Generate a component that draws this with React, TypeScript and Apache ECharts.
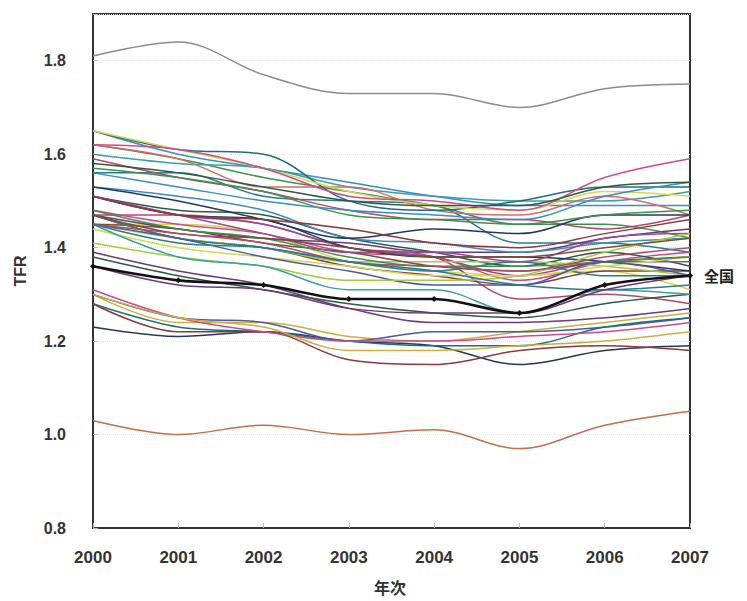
import React, { useEffect, useRef } from "react";
import * as echarts from "echarts";

const years = ["2000", "2001", "2002", "2003", "2004", "2005", "2006", "2007"];

const national = [1.36, 1.33, 1.32, 1.29, 1.29, 1.26, 1.32, 1.34];

const prefNames = [
  "北海道", "青森", "岩手", "宮城", "秋田", "山形", "福島", "茨城", "栃木", "群馬",
  "埼玉", "千葉", "東京", "神奈川", "新潟", "富山", "石川", "福井", "山梨", "長野",
  "岐阜", "静岡", "愛知", "三重", "滋賀", "京都", "大阪", "兵庫", "奈良", "和歌山",
  "鳥取", "島根", "岡山", "広島", "山口", "徳島", "香川", "愛媛", "高知", "福岡",
  "佐賀", "長崎", "熊本", "大分", "宮崎", "鹿児島", "沖縄",
];

const prefValues: number[][] = [
  [1.23, 1.21, 1.22, 1.2, 1.19, 1.15, 1.18, 1.19],
  [1.47, 1.47, 1.45, 1.4, 1.38, 1.29, 1.3, 1.28],
  [1.56, 1.56, 1.51, 1.5, 1.49, 1.41, 1.41, 1.39],
  [1.39, 1.35, 1.32, 1.27, 1.24, 1.24, 1.25, 1.27],
  [1.45, 1.45, 1.43, 1.37, 1.35, 1.34, 1.35, 1.31],
  [1.62, 1.59, 1.55, 1.52, 1.49, 1.45, 1.45, 1.42],
  [1.65, 1.6, 1.57, 1.54, 1.51, 1.49, 1.49, 1.49],
  [1.47, 1.42, 1.4, 1.36, 1.34, 1.32, 1.35, 1.35],
  [1.48, 1.45, 1.43, 1.39, 1.38, 1.33, 1.37, 1.39],
  [1.51, 1.48, 1.47, 1.42, 1.39, 1.36, 1.39, 1.36],
  [1.3, 1.24, 1.24, 1.21, 1.2, 1.22, 1.24, 1.26],
  [1.3, 1.25, 1.24, 1.2, 1.22, 1.22, 1.23, 1.25],
  [1.03, 1.0, 1.02, 1.0, 1.01, 0.97, 1.02, 1.05],
  [1.28, 1.23, 1.22, 1.2, 1.19, 1.19, 1.23, 1.25],
  [1.51, 1.47, 1.45, 1.4, 1.38, 1.34, 1.37, 1.37],
  [1.45, 1.42, 1.4, 1.37, 1.37, 1.37, 1.36, 1.34],
  [1.45, 1.44, 1.41, 1.39, 1.36, 1.35, 1.37, 1.38],
  [1.6, 1.58, 1.57, 1.53, 1.51, 1.5, 1.5, 1.52],
  [1.51, 1.47, 1.46, 1.4, 1.38, 1.38, 1.37, 1.35],
  [1.59, 1.55, 1.52, 1.48, 1.46, 1.46, 1.44, 1.47],
  [1.47, 1.42, 1.4, 1.37, 1.35, 1.37, 1.34, 1.34],
  [1.47, 1.44, 1.42, 1.41, 1.39, 1.39, 1.42, 1.44],
  [1.44, 1.4, 1.38, 1.36, 1.34, 1.34, 1.36, 1.38],
  [1.48, 1.44, 1.42, 1.38, 1.36, 1.36, 1.37, 1.38],
  [1.53, 1.51, 1.48, 1.42, 1.41, 1.39, 1.41, 1.42],
  [1.28, 1.22, 1.22, 1.16, 1.15, 1.18, 1.19, 1.18],
  [1.31, 1.25, 1.22, 1.2, 1.2, 1.21, 1.22, 1.24],
  [1.38, 1.34, 1.31, 1.28, 1.26, 1.25, 1.28, 1.3],
  [1.3, 1.25, 1.23, 1.18, 1.18, 1.19, 1.2, 1.22],
  [1.45, 1.42, 1.38, 1.35, 1.32, 1.32, 1.37, 1.34],
  [1.62, 1.59, 1.53, 1.53, 1.48, 1.47, 1.51, 1.47],
  [1.65, 1.61, 1.6, 1.5, 1.48, 1.5, 1.53, 1.53],
  [1.51, 1.47, 1.43, 1.39, 1.39, 1.37, 1.42, 1.43],
  [1.41, 1.38, 1.36, 1.33, 1.33, 1.34, 1.39, 1.43],
  [1.47, 1.43, 1.42, 1.4, 1.38, 1.38, 1.4, 1.42],
  [1.45, 1.38, 1.36, 1.31, 1.31, 1.26, 1.31, 1.3],
  [1.53, 1.5, 1.46, 1.42, 1.44, 1.43, 1.47, 1.47],
  [1.45, 1.43, 1.41, 1.37, 1.36, 1.35, 1.38, 1.4],
  [1.45, 1.41, 1.4, 1.37, 1.35, 1.32, 1.31, 1.32],
  [1.36, 1.32, 1.31, 1.27, 1.26, 1.26, 1.31, 1.34],
  [1.65, 1.61, 1.57, 1.52, 1.49, 1.48, 1.52, 1.51],
  [1.57, 1.55, 1.52, 1.47, 1.46, 1.45, 1.47, 1.48],
  [1.56, 1.53, 1.5, 1.48, 1.47, 1.46, 1.51, 1.54],
  [1.51, 1.47, 1.46, 1.44, 1.41, 1.4, 1.43, 1.46],
  [1.62, 1.61, 1.57, 1.51, 1.5, 1.48, 1.55, 1.59],
  [1.58, 1.56, 1.53, 1.5, 1.49, 1.49, 1.53, 1.54],
  [1.81, 1.84, 1.77, 1.73, 1.73, 1.7, 1.74, 1.75],
];

const palette = [
  "#23385f", "#b04a6a", "#2a7d8a", "#6a3a7a", "#d5d84a", "#3f8f4f",
  "#3a8cc4", "#8a3a3a", "#cc4c8c", "#2f5a45", "#c8b040", "#4a5aa0",
  "#d86a6a", "#1f6f7a", "#9a4a9a", "#a8c840", "#7a5030", "#3aa0a0",
];

const FONT = "Liberation Sans, Arial, sans-serif";

export default function App() {
  const ref = useRef<HTMLDivElement>(null);
  useEffect(() => {
    if (!ref.current) return;
    const chart = echarts.init(ref.current, undefined, { renderer: "svg" });
    const series: any[] = prefValues.map((vals, i) => {
      let color = palette[i % palette.length];
      if (prefNames[i] === "沖縄") color = "#8c8c8c";
      if (prefNames[i] === "東京") color = "#c0704a";
      return {
        name: prefNames[i],
        type: "line",
        data: vals,
        smooth: 0.35,
        showSymbol: false,
        symbol: "none",
        lineStyle: { width: 1.5, color },
        z: 2,
      };
    });
    series.push({
      name: "全国",
      type: "line",
      data: national,
      smooth: 0.3,
      symbol: "diamond",
      symbolSize: 6,
      itemStyle: { color: "#111" },
      lineStyle: { width: 2.6, color: "#111" },
      z: 5,
      endLabel: {
        show: true,
        formatter: "全国",
        distance: 14,
        fontSize: 15,
        fontWeight: "bold",
        color: "#222",
        fontFamily: "Noto Sans CJK JP",
      },
    });
    chart.setOption({
      animation: false,
      backgroundColor: "#fff",
      grid: {
        left: 93,
        right: 57,
        top: 14,
        bottom: 73,
        show: true,
        borderColor: "#333",
        borderWidth: 2,
        backgroundColor: "transparent",
      },
      xAxis: {
        type: "category",
        data: years,
        boundaryGap: false,
        axisLine: { lineStyle: { color: "#333", width: 2 } },
        axisTick: { show: true, inside: true, length: 5, lineStyle: { color: "#bbb" } },
        axisLabel: {
          fontSize: 17,
          fontWeight: "bold",
          color: "#333",
          margin: 21,
          fontFamily: FONT,
        },
        splitLine: { show: false },
      },
      yAxis: {
        type: "value",
        min: 0.8,
        max: 1.9,
        interval: 0.2,
        axisLine: { show: true, lineStyle: { color: "#333", width: 2 } },
        axisTick: { show: true, inside: true, length: 5, lineStyle: { color: "#bbb" } },
        axisLabel: {
          fontSize: 16,
          fontWeight: "bold",
          color: "#333",
          margin: 27,
          fontFamily: FONT,
          formatter: (v: number) => (v > 1.85 ? "" : v.toFixed(1)),
        },
        splitLine: { show: true, lineStyle: { color: "#e2e2e2", type: "dotted", width: 1 } },
      },
      graphic: [
        {
          type: "text",
          x: 20,
          y: 271,
          rotation: Math.PI / 2,
          style: {
            text: "TFR",
            fontSize: 16,
            fontWeight: "bold",
            fill: "#333",
            fontFamily: FONT,
            align: "center",
            verticalAlign: "middle",
          },
        },
        {
          type: "text",
          x: 390,
          y: 587,
          style: {
            text: "年次",
            fontSize: 16,
            fill: "#333",
            fontWeight: "bold",
            fontFamily: "Noto Sans CJK JP",
            align: "center",
            verticalAlign: "middle",
          },
        },
      ],
      series,
    });
    return () => chart.dispose();
  }, []);
  return <div ref={ref} style={{ width: 747, height: 601, position: "absolute", left: 0, top: 0 }} />;
}
